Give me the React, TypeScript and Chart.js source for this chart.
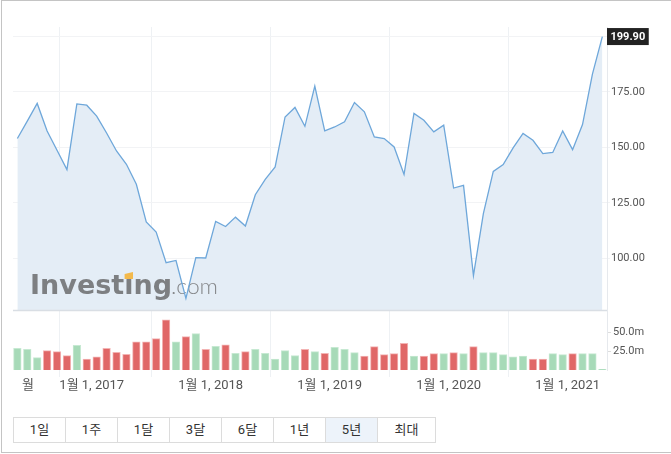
import React, { useEffect, useRef } from 'react';
import { Chart, registerables } from 'chart.js';

Chart.register(...registerables);

// Monthly closes, May 2016 .. Apr 2021 (last = current price)
const closes = [
  154.0, 161.8, 169.8, 157.4, 148.7, 140.0, 169.6, 169.0, 164.1, 156.5,
  148.4, 142.4, 133.4, 116.4, 111.9, 98.1, 99.1, 82.0, 100.4, 100.2,
  116.7, 114.4, 118.6, 114.6, 128.7, 135.6, 141.2, 163.7, 168.0, 159.5,
  177.6, 157.4, 159.2, 161.5, 170.2, 166.0, 154.7, 154.0, 150.2, 137.8,
  165.3, 162.2, 157.0, 160.0, 131.7, 132.9, 92.3, 120.2, 139.2, 142.3,
  149.8, 156.3, 153.2, 147.2, 147.7, 157.4, 149.0, 160.3, 183.0, 199.9,
];

// Monthly volume, millions
const volumes = [
  29.0, 27.7, 16.5, 25.8, 24.5, 19.1, 33.0, 14.7, 17.4, 29.0,
  23.7, 21.0, 37.4, 37.4, 41.8, 66.8, 37.4, 44.5, 48.5, 27.7,
  31.7, 33.4, 22.3, 24.5, 27.7, 22.3, 14.7, 25.8, 19.1, 27.7,
  24.5, 22.3, 30.3, 27.7, 23.1, 18.7, 31.2, 20.5, 21.8, 35.7,
  18.7, 18.7, 21.8, 21.8, 23.1, 21.8, 31.2, 23.1, 23.1, 20.5,
  17.4, 18.7, 14.7, 14.7, 21.8, 20.5, 21.8, 21.8, 21.8, 0.9,
];

// x tick positions in month-index units (date boundaries) and their labels
const xTickAt = [1.07, 7.5, 19.5, 31.5, 43.5, 55.5];
const xTickLabels = ['월', '1월 1, 2017', '1월 1, 2018', '1월 1, 2019', '1월 1, 2020', '1월 1, 2021'];

const priceTicks = [100, 125, 150, 175, 200];
const volumeTicks = [25, 50];

const rangeButtons = ['1일', '1주', '1달', '3달', '6달', '1년', '5년', '최대'];
const activeRange = '5년';

const FONT = 'Roboto, "Noto Sans CJK KR", sans-serif';

const overlayPlugin = {
  id: 'overlay',
  beforeDatasetDraw(chart: any, args: any) {
    if (args.index !== 0) return;
    const ctx = chart.ctx;
    ctx.save();
    // Investing.com watermark
    ctx.font = 'bold 27px "DejaVu Sans"';
    const w1 = ctx.measureText('Investing').width;
    const wBefore = ctx.measureText('Invest').width;
    const wi = ctx.measureText('i').width;
    const sx = 142 / w1;
    ctx.translate(30, 294);
    ctx.scale(sx, 1);
    ctx.fillStyle = '#7d7f82';
    ctx.textBaseline = 'alphabetic';
    ctx.fillText('Investing', 0, 0);
    const cx = wBefore + wi / 2;
    ctx.fillStyle = '#ffffff';
    ctx.fillStyle = '#f3b94c';
    ctx.beginPath();
    ctx.moveTo(cx - 4.2, -15);
    ctx.lineTo(cx + 4.2, -15);
    ctx.lineTo(cx + 4.2, -22);
    ctx.lineTo(cx - 4.2, -20);
    ctx.closePath();
    ctx.fill();
    ctx.restore();
    ctx.save();
    ctx.font = '300 22px Lato';
    const w2 = ctx.measureText('.com').width;
    ctx.translate(171, 294);
    ctx.scale(47 / w2, 1);
    ctx.fillStyle = '#86888b';
    ctx.fillText('.com', 0, 0);
    ctx.restore();
  },
  afterDraw(chart: any) {
    const ctx = chart.ctx;
    const y = chart.scales.y;
    const area = chart.chartArea;
    ctx.save();
    // separator between price and volume panels
    ctx.strokeStyle = '#d9dee4';
    ctx.lineWidth = 1.5;
    ctx.beginPath();
    ctx.moveTo(area.left, y.bottom + 0.5);
    ctx.lineTo(area.right, y.bottom + 0.5);
    ctx.stroke();
    // last price label
    const last = closes[closes.length - 1];
    const py = y.getPixelForValue(last);
    const text = last.toFixed(2);
    ctx.font = 'bold 11px ' + FONT;
    const tw = ctx.measureText(text).width;
    const bw = tw + 7;
    ctx.fillStyle = '#222222';
    ctx.fillRect(area.right, py - 8.5, bw, 17);
    ctx.fillStyle = '#ffffff';
    ctx.textAlign = 'center';
    ctx.textBaseline = 'middle';
    ctx.fillText(text, area.right + bw / 2, py + 0.5);
    ctx.restore();
  },
};

function PriceChart() {
  const ref = useRef<HTMLCanvasElement | null>(null);
  useEffect(() => {
    if (!ref.current) return;
    const linePts = closes.map((v, i) => ({ x: i, y: v }));
    const volPts = volumes.map((v, i) => ({ x: i, y: v }));
    const up = closes.map((v, i) => i === 0 || v >= closes[i - 1]);
    const chart = new Chart(ref.current, {
      type: 'line',
      data: {
        datasets: [
          {
            type: 'line',
            data: linePts,
            xAxisID: 'x',
            yAxisID: 'y',
            borderColor: '#6ea7da',
            borderWidth: 1.3,
            backgroundColor: '#e4edf6',
            fill: 'start',
            pointRadius: 0,
            tension: 0,
          },
          {
            type: 'bar',
            data: volPts,
            xAxisID: 'x',
            yAxisID: 'yv',
            backgroundColor: up.map((u) => (u ? '#a7dab8' : '#e06767')),
            borderColor: up.map((u) => (u ? '#c6e9d2' : '#f3b3b3')),
            borderWidth: 1,
            borderSkipped: 'bottom',
            barThickness: 7.6,
          } as any,
        ],
      },
      options: {
        responsive: false,
        animation: false,
        layout: { padding: { left: 13, top: 27, right: 0, bottom: 0 } },
        plugins: { legend: { display: false }, tooltip: { enabled: false } },
        scales: {
          x: {
            type: 'linear',
            min: -0.44,
            max: 59.47,
            offset: false,
            afterBuildTicks: (s: any) => {
              s.ticks = xTickAt.map((v) => ({ value: v }));
            },
            afterFit: (s: any) => {
              s.height = 30;
            },
            ticks: {
              callback: (_v: any, i: number) => xTickLabels[i],
              color: '#555555',
              font: { size: 13, family: FONT },
              maxRotation: 0,
              autoSkip: false,
              padding: 1,
            },
            grid: { color: '#eef1f4', tickLength: 7, drawTicks: true },
            border: { display: false },
          },
          y: {
            type: 'linear',
            position: 'right',
            stack: 'v',
            stackWeight: 283,
            min: 76.8,
            max: 204.2,
            afterBuildTicks: (s: any) => {
              s.ticks = priceTicks.map((v) => ({ value: v }));
            },
            afterFit: (s: any) => {
              s.width = 64;
            },
            ticks: {
              callback: (v: any) => (v === 200 ? '' : Number(v).toFixed(2)),
              color: '#555555',
              font: { size: 11, family: FONT },
              padding: 1,
            },
            grid: { color: '#f2f3f5', tickLength: 3 },
            border: { color: '#e6e9ed' },
          },
          yv: {
            type: 'linear',
            position: 'right',
            stack: 'v',
            stackWeight: 60,
            min: 0,
            max: 80,
            afterBuildTicks: (s: any) => {
              s.ticks = volumeTicks.map((v) => ({ value: v }));
            },
            afterFit: (s: any) => {
              s.width = 64;
            },
            ticks: {
              callback: (v: any) => Number(v).toFixed(1) + 'm',
              color: '#555555',
              font: { size: 11, family: FONT },
              padding: 2,
            },
            grid: { drawOnChartArea: false, tickLength: 4, color: '#dddddd' },
            border: { color: '#e6e9ed' },
          },
        },
      } as any,
      plugins: [overlayPlugin],
    });
    return () => chart.destroy();
  }, []);
  return (
    <canvas
      ref={ref}
      width={671}
      height={400}
      style={{ position: 'absolute', left: 0, top: 0, width: 671, height: 400 }}
    />
  );
}

export default function App() {
  return (
    <div
      style={{
        position: 'fixed',
        left: 0,
        top: 0,
        width: 671,
        height: 454,
        background: '#ffffff',
        overflow: 'hidden',
        fontFamily: FONT,
      }}
    >
      <div
        style={{
          position: 'absolute',
          left: 1,
          top: 0,
          width: 700,
          height: 451,
          border: '1px solid #c4c4c4',
        }}
      />
      <PriceChart />
      <div
        style={{
          position: 'absolute',
          left: 13,
          top: 417,
          height: 24,
          display: 'flex',
          border: '1px solid #dcdcdc',
        }}
      >
        {rangeButtons.map((b, i) => (
          <div
            key={b}
            style={{
              width: i === rangeButtons.length - 1 ? 57 : 51,
              height: 24,
              lineHeight: '24px',
              textAlign: 'center',
              fontSize: 13,
              color: '#333333',
              background: b === activeRange ? '#edf3fa' : '#ffffff',
              borderRight: i === rangeButtons.length - 1 ? 'none' : '1px solid #dcdcdc',
            }}
          >
            {b}
          </div>
        ))}
      </div>
    </div>
  );
}
